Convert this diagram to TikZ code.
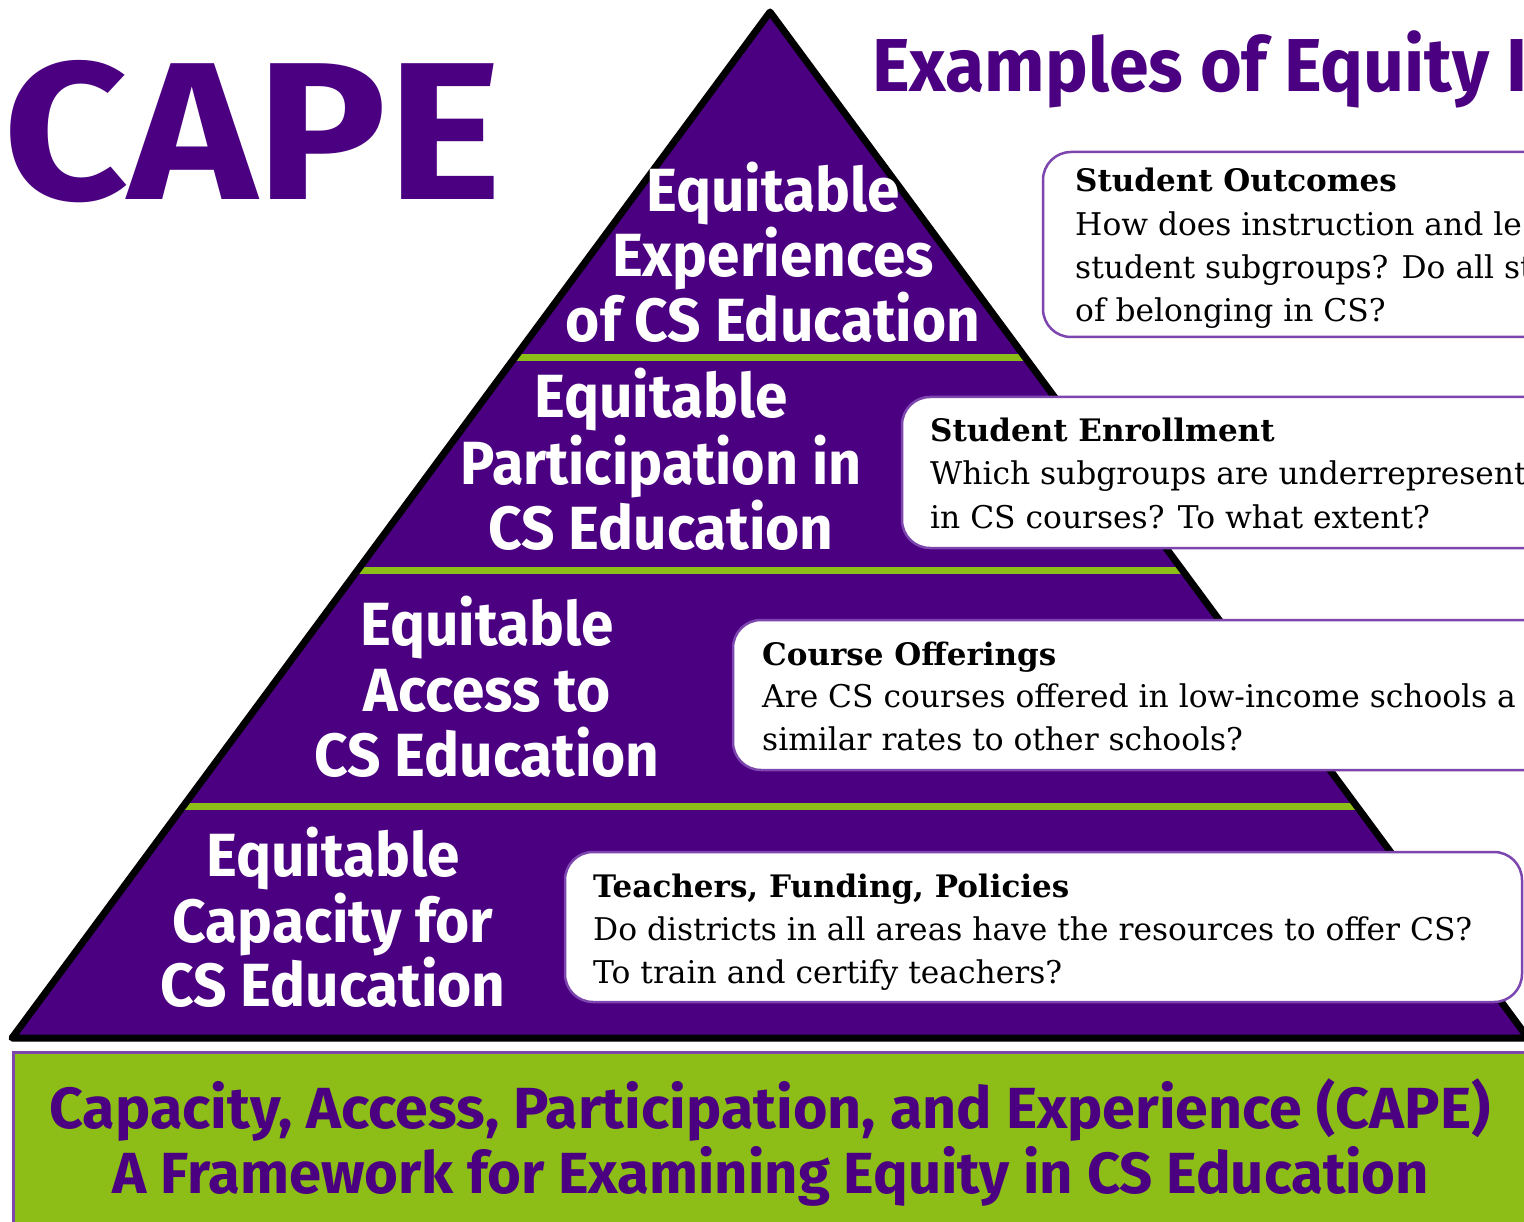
\documentclass[tikz,border=0pt]{standalone}
\usepackage{fontspec}
\usepackage{graphicx}
\setsansfont{Fira Sans}
\setmainfont{DejaVu Serif}
\usetikzlibrary{calc}
\definecolor{cpurple}{RGB}{75,0,130}
\definecolor{cgreen}{RGB}{141,189,23}
\definecolor{cborder}{RGB}{125,70,175}
\newcommand{\lblx}[1]{\scalebox{0.96}[1]{#1}}
\tikzset{
  lbl/.style={inner sep=0pt, anchor=base, text=white, font=\sffamily\bfseries\fontsize{61}{65}\selectfont},
  qhead/.style={inner sep=0pt, anchor=base west, text=black, font=\rmfamily\bfseries\fontsize{31}{40}\selectfont},
  qtext/.style={inner sep=0pt, anchor=base west, text=black, font=\rmfamily\fontsize{31.3}{40}\selectfont},
  qbox/.style={fill=white, draw=cborder, line width=2.5pt, rounded corners=28pt},
  tierline/.style={draw=cgreen, line width=7pt},
  outline/.style={draw=black, line width=7pt, line join=round},
  band/.style={fill=cgreen, draw=cborder, line width=3pt},
  bandtext/.style={inner sep=0pt, anchor=base, text=cpurple, font=\sffamily\bfseries\fontsize{58}{65}\selectfont},
}
\begin{document}
\begin{tikzpicture}[x=1pt,y=-1pt]
\useasboundingbox (0,0) rectangle (1524,1222);
\clip (0,0) rectangle (1524,1222);
\fill[white] (0,0) rectangle (1524,1222);
% pyramid
\coordinate (apex) at (770,12);
\coordinate (bl) at (12,1038);
\coordinate (br) at (1528,1038);
\fill[cpurple] (apex) -- (bl) -- (br) -- cycle;
\draw[tierline] ($(apex)!0.3363!(bl)$) -- ($(apex)!0.3363!(br)$);
\draw[tierline] ($(apex)!0.5439!(bl)$) -- ($(apex)!0.5439!(br)$);
\draw[tierline] ($(apex)!0.7739!(bl)$) -- ($(apex)!0.7739!(br)$);
\draw[outline] (apex) -- (bl) -- (br) -- cycle;
% title texts
\node[inner sep=0pt, anchor=base east, text=cpurple, font=\sffamily\bfseries\fontsize{196}{200}\selectfont] (cape) at (502,200) {\scalebox{1.11}[1]{CAPE}};
\node[inner sep=0pt, anchor=base west, text=cpurple, font=\sffamily\bfseries\fontsize{75}{80}\selectfont] (examples) at (872,92) {\scalebox{0.955}[1]{Examples of Equity Is}};
% tier labels
\node[lbl] (t1a) at (773,212) {\lblx{Equitable}};
\node[lbl] (t1b) at (773,277) {\lblx{Experiences}};
\node[lbl] (t1c) at (773,342) {\lblx{of CS Education}};
\node[lbl] (t2a) at (661,418) {\lblx{Equitable}};
\node[lbl] (t2b) at (661,484) {\scalebox{0.94}[1]{Participation in}};
\node[lbl] (t2c) at (661,549) {\lblx{CS Education}};
\node[lbl] (t3a) at (487,645) {\lblx{Equitable}};
\node[lbl] (t3b) at (487,711) {\lblx{Access to}};
\node[lbl] (t3c) at (487,776) {\lblx{CS Education}};
\node[lbl] (t4a) at (333,876) {\lblx{Equitable}};
\node[lbl] (t4b) at (333,942) {\lblx{Capacity for}};
\node[lbl] (t4c) at (333,1006) {\lblx{CS Education}};
% boxes
\draw[qbox] (1043,152) rectangle (1600,337);
\draw[qbox] (902,397) rectangle (1600,548);
\draw[qbox] (733,620) rectangle (1600,770);
\draw[qbox] (565,852) rectangle (1522,1002);
\node[qhead] (b1h) at (1075,192) {Student Outcomes};
\node[qtext] (b1a) at (1075,236) {How does instruction and le};
\node[qtext] (b1b) at (1075,279) {student subgroups? Do all st};
\node[qtext] (b1c) at (1075,322) {of belonging in CS?};
\node[qhead] (b2h) at (930,442) {Student Enrollment};
\node[qtext] (b2a) at (930,485) {Which subgroups are underrepresent};
\node[qtext] (b2b) at (930,528) {in CS courses? To what extent?};
\node[qhead] (b3h) at (762,665) {Course Offerings};
\node[qtext] (b3a) at (762,707) {Are CS courses offered in low-income schools a};
\node[qtext] (b3b) at (762,750) {similar rates to other schools?};
\node[qhead] (b4h) at (593,897) {Teachers, Funding, Policies};
\node[qtext] (b4a) at (593,940) {Do districts in all areas have the resources to offer CS?};
\node[qtext] (b4b) at (593,983) {To train and certify teachers?};
% band
\draw[band] (13,1052) rectangle (1540,1240);
\node[bandtext] (bt1) at (770,1128) {\scalebox{1.02}[1]{Capacity, Access, Participation, and Experience (CAPE)}};
\node[bandtext] (bt2) at (771,1193) {A Framework for Examining Equity in CS Education};
\end{tikzpicture}
\end{document}
